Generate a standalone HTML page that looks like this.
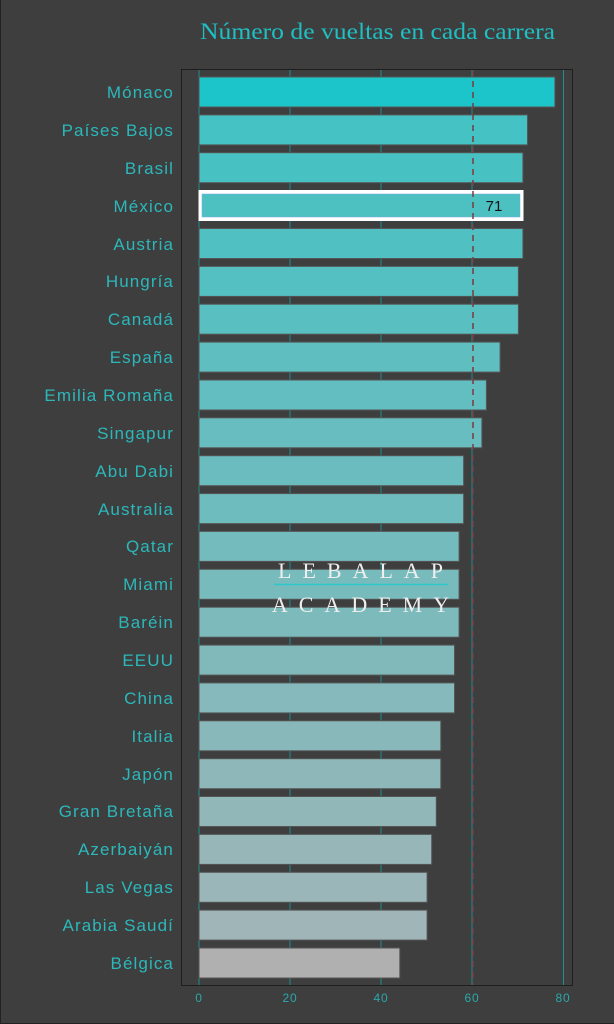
<!DOCTYPE html>
<html><head><meta charset="utf-8"><style>
html,body{margin:0;padding:0;background:#3e3e3e;}
svg{display:block;}
.l{font-family:"Liberation Sans",sans-serif;font-size:17px;fill:#2cb8bb;text-anchor:end;letter-spacing:1.1px;}
.t{font-family:"Liberation Sans",sans-serif;font-size:12px;fill:#2aa8ab;text-anchor:middle;letter-spacing:0.8px;}
</style></head><body>
<svg width="614" height="1024" viewBox="0 0 614 1024" xmlns="http://www.w3.org/2000/svg">
<rect x="0" y="0" width="614" height="1024" fill="#3e3e3e"/>
<line x1="0.5" y1="0" x2="0.5" y2="1024" stroke="#222" stroke-width="1"/>
<line x1="0" y1="1023.5" x2="614" y2="1023.5" stroke="#222" stroke-width="1"/>
<text x="200" y="39" font-family="'Liberation Serif',serif" font-size="23" fill="#1fbfc3" textLength="355" lengthAdjust="spacingAndGlyphs">Número de vueltas en cada carrera</text>
<rect x="181.5" y="69.5" width="391" height="916" fill="none" stroke="#1e1e1e" stroke-width="1"/>
<g stroke="#1e8f92" stroke-width="1">
<line x1="199" y1="70" x2="199" y2="985"/><line x1="290" y1="70" x2="290" y2="985"/><line x1="381" y1="70" x2="381" y2="985"/><line x1="563.5" y1="70" x2="563.5" y2="985"/>
<line x1="472" y1="70" x2="472" y2="985"/>
</g>
<g stroke="#555" stroke-width="1">
<rect x="199" y="77" width="355.9" height="30" fill="#1bc5c9"/>
<rect x="199" y="114.9" width="328.5" height="30" fill="#44c2c4"/>
<rect x="199" y="152.7" width="323.9" height="30" fill="#48c1c3"/>
<rect x="199" y="228.5" width="323.9" height="30" fill="#51c0c2"/>
<rect x="199" y="266.4" width="319.4" height="30" fill="#55c0c1"/>
<rect x="199" y="304.2" width="319.4" height="30" fill="#5abfc1"/>
<rect x="199" y="342.1" width="301.1" height="30" fill="#5ebec0"/>
<rect x="199" y="380" width="287.4" height="30" fill="#62bec0"/>
<rect x="199" y="417.8" width="282.9" height="30" fill="#67bdbf"/>
<rect x="199" y="455.7" width="264.6" height="30" fill="#6bbcbe"/>
<rect x="199" y="493.6" width="264.6" height="30" fill="#6fbcbe"/>
<rect x="199" y="531.4" width="260.1" height="30" fill="#74bbbd"/>
<rect x="199" y="569.3" width="260.1" height="30" fill="#78bbbd"/>
<rect x="199" y="607.2" width="260.1" height="30" fill="#7cbabc"/>
<rect x="199" y="645.1" width="255.5" height="30" fill="#81b9bb"/>
<rect x="199" y="682.9" width="255.5" height="30" fill="#85b9bb"/>
<rect x="199" y="720.8" width="241.8" height="30" fill="#89b8ba"/>
<rect x="199" y="758.7" width="241.8" height="30" fill="#8eb7b9"/>
<rect x="199" y="796.5" width="237.3" height="30" fill="#92b7b9"/>
<rect x="199" y="834.4" width="232.7" height="30" fill="#96b6b8"/>
<rect x="199" y="872.3" width="228.1" height="30" fill="#9bb6b8"/>
<rect x="199" y="910.1" width="228.1" height="30" fill="#9fb5b7"/>
<rect x="199" y="948" width="200.8" height="30" fill="#b0b0b0"/>
</g>
<rect x="198.5" y="190" width="325" height="31" fill="#fff"/>
<rect x="202" y="194" width="318" height="23" fill="#4dc1c2" stroke="#7ad" stroke-width="0.5"/>
<line x1="473" y1="70" x2="473" y2="985" stroke="#7a3a3e" stroke-width="1.5" stroke-dasharray="6,5"/>
<text x="494" y="211" font-family="'Liberation Sans',sans-serif" font-size="15" fill="#111" text-anchor="middle">71</text>
<g class="l">
<text x="174" y="98">Mónaco</text>
<text x="174" y="136">Países Bajos</text>
<text x="174" y="174">Brasil</text>
<text x="174" y="212">México</text>
<text x="174" y="250">Austria</text>
<text x="174" y="287">Hungría</text>
<text x="174" y="325">Canadá</text>
<text x="174" y="363">España</text>
<text x="174" y="401">Emilia Romaña</text>
<text x="174" y="439">Singapur</text>
<text x="174" y="477">Abu Dabi</text>
<text x="174" y="515">Australia</text>
<text x="174" y="552">Qatar</text>
<text x="174" y="590">Miami</text>
<text x="174" y="628">Baréin</text>
<text x="174" y="666">EEUU</text>
<text x="174" y="704">China</text>
<text x="174" y="742">Italia</text>
<text x="174" y="780">Japón</text>
<text x="174" y="817">Gran Bretaña</text>
<text x="174" y="855">Azerbaiyán</text>
<text x="174" y="893">Las Vegas</text>
<text x="174" y="931">Arabia Saudí</text>
<text x="174" y="969">Bélgica</text>
</g>
<g class="t">
<text x="199" y="1002">0</text><text x="290" y="1002">20</text><text x="381" y="1002">40</text><text x="472" y="1002">60</text><text x="563" y="1002">80</text>
</g>
<g font-family="'Liberation Serif',serif" font-size="22" fill="#eee" text-anchor="middle" letter-spacing="11">
<text x="366" y="578">LEBALAP</text>
<text x="366" y="612">ACADEMY</text>
</g>
<line x1="274" y1="584.5" x2="448" y2="584.5" stroke="#2cc8cc" stroke-width="1.5"/>
</svg>
</body></html>
